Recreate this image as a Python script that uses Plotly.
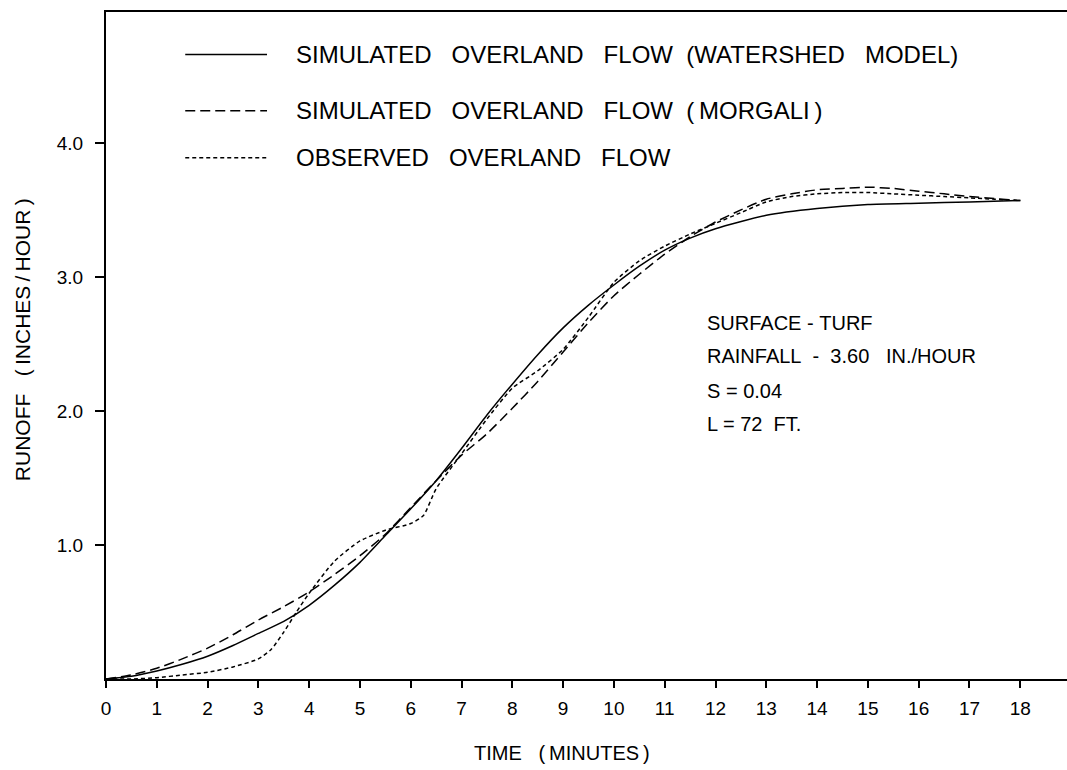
import plotly.graph_objects as go

# ---- data ----
t_model = [0, 0.5, 1, 1.5, 2, 2.5, 3, 3.5, 4, 4.5, 5, 5.5, 6, 6.5, 7, 7.5, 8, 8.5,
           9, 9.5, 10, 10.5, 11, 11.5, 12, 13, 14, 15, 16, 17, 18]
q_model = [0, 0.02, 0.06, 0.11, 0.17, 0.25, 0.34, 0.43, 0.55, 0.70, 0.87, 1.07, 1.27,
           1.48, 1.72, 1.97, 2.20, 2.42, 2.62, 2.79, 2.94, 3.08, 3.20, 3.29, 3.36,
           3.46, 3.51, 3.54, 3.55, 3.56, 3.57]

t_morgali = [0, 0.5, 1, 1.5, 2, 2.5, 3, 3.5, 4, 4.5, 5, 5.5, 6, 6.5, 7, 7.5, 8, 8.5,
             9, 9.5, 10, 10.5, 11, 11.5, 12, 12.5, 13, 13.5, 14, 14.5, 15, 15.5, 16,
             16.5, 17, 17.5, 18]
q_morgali = [0, 0.03, 0.08, 0.15, 0.23, 0.33, 0.44, 0.54, 0.65, 0.78, 0.92, 1.08, 1.28,
             1.48, 1.67, 1.83, 2.02, 2.22, 2.44, 2.66, 2.86, 3.02, 3.17, 3.30, 3.41,
             3.50, 3.58, 3.62, 3.65, 3.66, 3.67, 3.66, 3.64, 3.62, 3.60, 3.585, 3.57]

t_obs = [0, 0.5, 1, 1.5, 2, 2.5, 3, 3.25, 3.5, 3.75, 4, 4.5, 5, 5.5, 6, 6.25, 6.5, 7,
         7.5, 8, 8.5, 9, 9.5, 10, 10.5, 11, 11.5, 12, 12.5, 13, 13.5, 14, 14.5, 15,
         15.5, 16, 16.5, 17, 17.5, 18]
q_obs = [0, 0.0, 0.01, 0.03, 0.05, 0.09, 0.15, 0.22, 0.35, 0.50, 0.64, 0.88, 1.03,
         1.11, 1.16, 1.22, 1.42, 1.68, 1.94, 2.17, 2.30, 2.46, 2.70, 2.96, 3.12, 3.23,
         3.32, 3.40, 3.48, 3.56, 3.60, 3.62, 3.63, 3.63, 3.62, 3.61, 3.60, 3.59, 3.58,
         3.57]

x_ticks = list(range(0, 19))
y_ticks = [1, 2, 3, 4]
y_tick_labels = ["1.0", "2.0", "3.0", "4.0"]

NB = "\u00a0"
legend_names = [
    f"SIMULATED{NB*3}OVERLAND{NB*3}FLOW{NB*2}(WATERSHED{NB*3}MODEL)",
    f"SIMULATED{NB*3}OVERLAND{NB*3}FLOW{NB*2}(\u2009MORGALI\u2009)",
    f"OBSERVED{NB*3}OVERLAND{NB*3}FLOW",
]
info_lines = [
    f"SURFACE{NB}-{NB}TURF",
    f"RAINFALL{NB*2}-{NB*2}3.60{NB*3}IN./HOUR",
    "S = 0.04",
    f"L = 72{NB*2}FT.",
]
x_title = f"TIME{NB*3}(\u2009MINUTES\u2009)"
y_title = f"RUNOFF{NB*3}(\u2009INCHES\u2009/\u2009HOUR\u2009)"

FONT = "Liberation Sans"
dashes = ["solid", "10px,5px", "4px,3px"]

fig = go.Figure()
for t, q, d, n in [(t_model, q_model, dashes[0], legend_names[0]),
                   (t_morgali, q_morgali, dashes[1], legend_names[1]),
                   (t_obs, q_obs, dashes[2], legend_names[2])]:
    fig.add_trace(go.Scatter(x=t, y=q, mode="lines", name=n,
                             line=dict(color="black", width=1.5, dash=d,
                                       shape="spline", smoothing=0.6),
                             showlegend=False))

# hand-drawn style legend (samples + labels)
leg_y = [4.66, 4.24, 3.89]
for i in range(3):
    fig.add_shape(type="line", xref="x", yref="y", x0=1.56, x1=3.17,
                  y0=leg_y[i], y1=leg_y[i],
                  line=dict(color="black", width=1.5, dash=dashes[i]))
    fig.add_annotation(x=3.7, y=leg_y[i], xref="x", yref="y", text=legend_names[i],
                       showarrow=False, xanchor="left", yanchor="middle",
                       font=dict(family=FONT, size=24, color="black"))

info_y = [2.66, 2.41, 2.15, 1.90]
for yy, txt in zip(info_y, info_lines):
    fig.add_annotation(x=11.8, y=yy, xref="x", yref="y", text=txt, showarrow=False,
                       xanchor="left", yanchor="middle",
                       font=dict(family=FONT, size=20, color="black"))

# axis titles
fig.add_annotation(x=0.4745, y=-0.111, xref="paper", yref="paper", text=x_title,
                   showarrow=False, xanchor="center", yanchor="middle",
                   font=dict(family=FONT, size=20, color="black"))
fig.add_annotation(x=-0.0874, y=0.508, xref="paper", yref="paper", text=y_title,
                   showarrow=False, xanchor="center", yanchor="middle", textangle=-90,
                   font=dict(family=FONT, size=21, color="black"))

fig.update_layout(
    width=1067, height=770,
    margin=dict(l=106, r=0, t=12, b=91),
    paper_bgcolor="white", plot_bgcolor="white",
    font=dict(family=FONT, color="black"),
    showlegend=False,
)
fig.update_xaxes(range=[0, 18.92], tickvals=x_ticks, ticks="outside", ticklen=7,
                 tickwidth=2, tickcolor="black", showline=True, linecolor="black",
                 linewidth=2, mirror=True, showgrid=False, zeroline=False,
                 ticklabelstandoff=4,
                 tickfont=dict(family=FONT, size=19, color="black"))
fig.update_yaxes(range=[0, 4.977], tickvals=y_ticks, ticktext=y_tick_labels,
                 ticks="outside", ticklen=9, tickwidth=2, tickcolor="black",
                 showline=True, linecolor="black", linewidth=2, mirror=False,
                 showgrid=False, zeroline=False, ticklabelstandoff=8,
                 tickfont=dict(family=FONT, size=19, color="black"))

fig.write_html("out.html")
